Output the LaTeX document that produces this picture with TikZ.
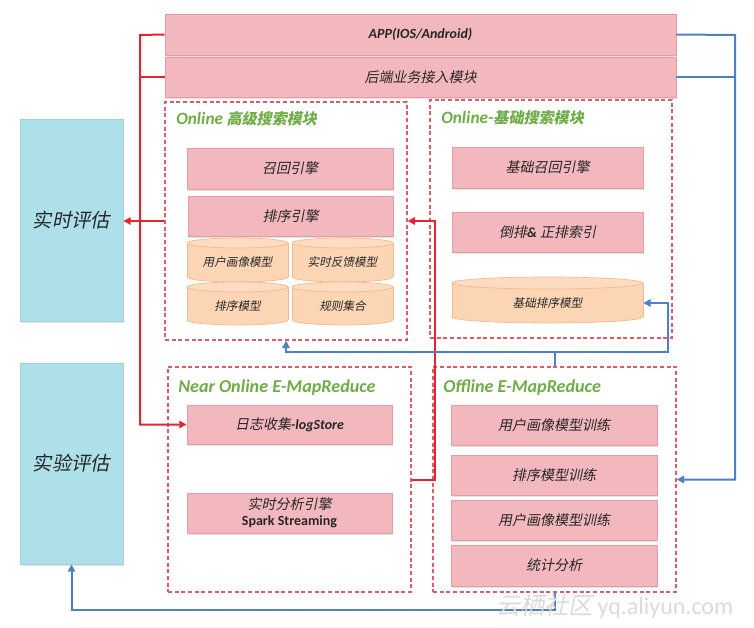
\documentclass[tikz,border=0pt]{standalone}
\usepackage{fontspec}
\usetikzlibrary{fit,shadows,arrows.meta,calc}
\newfontfamily\zh[FakeSlant=0.2]{Noto Sans CJK SC}
\newfontfamily\en{Carlito}
\newcommand\E[1]{{\en\bfseries\itshape #1}}
\definecolor{pinkf}{HTML}{F2B8BD}
\definecolor{pinkd}{HTML}{E79BA3}
\definecolor{cyanf}{HTML}{AEE0EA}
\definecolor{cyand}{HTML}{9BD3DF}
\definecolor{orf}{HTML}{FCD5B5}
\definecolor{ord}{HTML}{F2B98C}
\definecolor{ortop}{HTML}{FDDCC2}
\definecolor{dashr}{HTML}{E05A6A}
\definecolor{grn}{HTML}{6FAD47}
\definecolor{redl}{HTML}{E3262B}
\definecolor{bluel}{HTML}{4D80C4}
\definecolor{txt}{HTML}{262626}
% cylinder: name, x1, y1, x2, y2, ry, text
\newcommand\cyl[7]{%
  \path[fill=orf,draw=ord,line width=0.5pt] ({(#2+#4)/2},{#5-#6}) ellipse [x radius={(#4-#2)/2}, y radius=#6];
  \fill[orf] (#2,{#3+#6}) rectangle (#4,{#5-#6});
  \draw[ord,line width=0.5pt] (#2,{#3+#6}) -- (#2,{#5-#6}) (#4,{#3+#6}) -- (#4,{#5-#6});
  \path[fill=ortop,draw=ord,line width=0.5pt] ({(#2+#4)/2},{#3+#6}) ellipse [x radius={(#4-#2)/2}, y radius=#6];
  \node[cyltext,sz={#4-#2}{#5-#3}] (#1) at ({(#2+#4)/2},{(#3+#5)/2+#6/2}) {#7};
}
\begin{document}
\begin{tikzpicture}[x=0.75pt,y=-0.75pt,
  sz/.style 2 args={minimum width={(#1)*0.75pt},minimum height={(#2)*0.75pt}},
  box/.style={fill=pinkf,draw=pinkd,line width=0.6pt,inner sep=0pt,text=txt,
    font=\zh\fontsize{10.5}{12}\selectfont,
    drop shadow={opacity=0.22,shadow xshift=0.8pt,shadow yshift=-1.6pt}},
  cbox/.style={fill=cyanf,draw=cyand,line width=0.6pt,inner sep=0pt,text=txt,
    font=\zh\fontsize{14.5}{16}\selectfont,
    drop shadow={opacity=0.2,shadow xshift=0.8pt,shadow yshift=-1.6pt}},
  dbox/.style={draw=dashr,line width=1pt,dash pattern=on 3pt off 2pt,inner sep=0pt},
  cyltext/.style={inner sep=0pt,text=txt,font=\zh\fontsize{8.7}{10}\selectfont},
  ttl/.style={inner sep=0pt,anchor=west,text=grn,font=\zh\bfseries\fontsize{11.3}{13}\selectfont},
  rline/.style={draw=redl,line width=1.5pt},
  bline/.style={draw=bluel,line width=1.5pt},
  tip/.style={-{Triangle[length=5.5pt,width=5.5pt]}}
]
\useasboundingbox (0,0) rectangle (754,628);
\fill[white] (0,0) rectangle (754,628);

% top bars
\node[box,sz={511}{41}] (app) at (420.5,34.5) {\E{APP(IOS/Android)}};
\node[box,sz={511}{40}] (back) at (420.5,77) {后端业务接入模块};

% dashed containers
\node[dbox,fit={(165,102) (407,340)}] (online) {};
\node[dbox,fit={(430,100) (672,338)}] (base) {};
\node[dbox,fit={(168,367) (411,592)}] (near) {};
\node[dbox,fit={(433,367) (676,592)}] (off) {};

% titles
\node[ttl] (t1) at (176,119) {\E{\fontsize{13}{15}\selectfont Online} 高级搜索模块};
\node[ttl] (t2) at (441,118) {\E{\fontsize{13}{15}\selectfont Online-}基础搜索模块};
\node[ttl] (t3) at (178,388) {\E{\fontsize{13.6}{15}\selectfont Near Online E-MapReduce}};
\node[ttl] (t4) at (443,388) {\E{\fontsize{13.6}{15}\selectfont Offline E-MapReduce}};

% online advanced
\node[box,sz={206}{41}] (recall) at (290,168.5) {召回引擎};
\node[box,sz={205}{40}] (rank) at (290.5,216) {排序引擎};
\cyl{c1}{187}{238}{288}{282}{5}{用户画像模型}
\cyl{c2}{292}{238}{393}{282}{5}{实时反馈模型}
\cyl{c3}{187}{282}{288}{325}{5}{排序模型}
\cyl{c4}{292}{282}{393}{325}{5}{规则集合}

% online base
\node[box,sz={191}{41}] (brecall) at (547.5,167.5) {基础召回引擎};
\node[box,sz={191}{40}] (index) at (547.5,232) {倒排\E{\&} 正排索引};
\cyl{bsort}{452}{277}{643}{323}{6}{基础排序模型}

% near online
\node[box,sz={205}{39}] (log) at (289.5,424.5) {日志收集\E{-logStore}};
\node[box,sz={205}{40},align=center] (spark) at (289.5,513) {实时分析引擎\\[0pt]{\en\bfseries\fontsize{10.5}{12}\selectfont Spark Streaming}};

% offline
\node[box,sz={206}{40}] (tr1) at (554,425) {用户画像模型训练};
\node[box,sz={206}{40}] (tr2) at (554,475) {排序模型训练};
\node[box,sz={206}{40}] (tr3) at (554,520) {用户画像模型训练};
\node[box,sz={206}{41}] (stat) at (554,565.5) {统计分析};

% evaluation
\node[cbox,sz={103}{202}] (rt) at (71.5,220) {实时评估};
\node[cbox,sz={103}{201}] (sy) at (71.5,463.5) {实验评估};

% red connectors
\coordinate (rtop) at (140,35);
\coordinate (rr) at (435,480);
\draw[rline] (back.west) -- (back.west -| rtop);
\draw[rline,tip] (app.west) -- (rtop) |- (log.west);
\draw[rline,tip] (online.west) -- (online.west -| rt.east);
\draw[rline,tip] (near.east) -| (rr |- online.east) -- (online.east);

% blue connectors
\coordinate (btop) at (735,35);
\coordinate (bj) at (554.5,352);
\coordinate (bk) at (668,300);
\coordinate (bb) at (554.5,610);
\draw[bline] (back.east) -- (back.east -| btop);
\draw[bline,tip] (app.east) -- (btop) |- (off.east);
\draw[bline,tip] (off.north) -- (bj) -| (online.south);
\draw[bline,tip] (bj) -| (bk |- bsort.east) -- (bsort.east);
\draw[bline,tip] (off.south) -- (bb) -| (sy.south);

% watermark
\node[inner sep=0pt,anchor=west,text=black!14,font=\zh\fontsize{18}{20}\selectfont] (wm) at (496,606) {云栖社区 {\en\upshape yq.aliyun.com}};
\end{tikzpicture}
\end{document}
